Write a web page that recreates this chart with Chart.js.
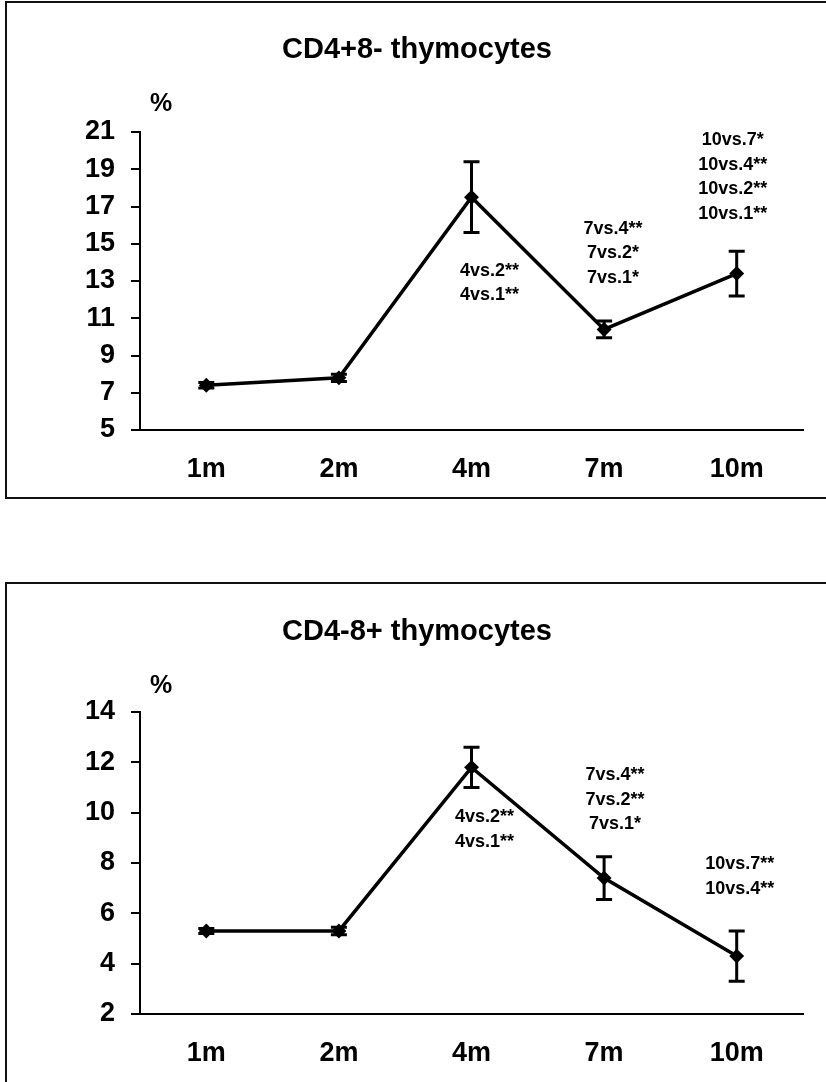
<!DOCTYPE html>
<html>
<head>
<meta charset="utf-8">
<script src="https://cdn.jsdelivr.net/npm/chart.js@4.4.1/dist/chart.umd.min.js"></script>
<style>
  html, body { margin: 0; padding: 0; background: #fff; }
  body { width: 826px; height: 1082px; position: relative; overflow: hidden; }
  .frame { position: absolute; left: 5px; width: 900px; border: 2px solid #111; border-right: none; }
  #frame1 { top: 1px; height: 494px; }
  #frame2 { top: 582px; height: 600px; border-bottom: none; }
  .wrap { position: absolute; left: 0; width: 826px; }
  #wrap1 { top: 0; height: 540px; }
  #wrap2 { top: 540px; height: 542px; }
</style>
</head>
<body>
<div class="frame" id="frame1"></div>
<div class="frame" id="frame2"></div>
<div class="wrap" id="wrap1"><canvas id="chart_cd4"></canvas></div>
<div class="wrap" id="wrap2"><canvas id="chart_cd8"></canvas></div>
<script>
const months = ['1m', '2m', '4m', '7m', '10m'];

// CD4+8- thymocytes
const cd4Values = [7.4, 7.8, 17.5, 10.4, 13.4];
const cd4Errors = [0.15, 0.2, 1.9, 0.45, 1.2];
const cd4Ticks = [5, 7, 9, 11, 13, 15, 17, 19, 21];
const cd4Notes = [
    [],
    [],
    ['4vs.2**', '4vs.1**'],
    ['7vs.4**', '7vs.2*', '7vs.1*'],
    ['10vs.7*', '10vs.4**', '10vs.2**', '10vs.1**'],
];

// CD4-8+ thymocytes
const cd8Values = [5.3, 5.3, 11.8, 7.4, 4.3];
const cd8Errors = [0.1, 0.15, 0.8, 0.85, 1.0];
const cd8Ticks = [2, 4, 6, 8, 10, 12, 14];
const cd8Notes = [
    [],
    [],
    ['4vs.2**', '4vs.1**'],
    ['7vs.4**', '7vs.2**', '7vs.1*'],
    ['10vs.7**', '10vs.4**'],
];

const FONT = '"Liberation Sans", Arial, sans-serif';
Chart.defaults.font.family = FONT;
Chart.defaults.font.weight = 'bold';
Chart.defaults.color = '#000';

// error bars, significance notes, title and the % unit
const extras = {
    id: 'extras',
    afterDatasetsDraw(chart, args, opts) {
        const { ctx, scales: { x, y } } = chart;
        ctx.save();
        ctx.strokeStyle = '#000';
        ctx.lineWidth = 3;
        opts.values.forEach((v, i) => {
            const px = x.getPixelForValue(i);
            const top = y.getPixelForValue(v + opts.errors[i]);
            const bot = y.getPixelForValue(v - opts.errors[i]);
            ctx.beginPath();
            ctx.moveTo(px, top);
            ctx.lineTo(px, bot);
            ctx.moveTo(px - 8, top);
            ctx.lineTo(px + 8, top);
            ctx.moveTo(px - 8, bot);
            ctx.lineTo(px + 8, bot);
            ctx.stroke();
        });

        ctx.fillStyle = '#000';
        ctx.textAlign = 'center';
        ctx.textBaseline = 'middle';
        ctx.font = 'bold 18px ' + FONT;
        opts.notes.forEach((lines, i) => {
            if (!lines.length)
                return;
            const a = opts.anchors[i];
            const px = x.getPixelForValue(i) + a.dx;
            const py = y.getPixelForValue(a.at);
            lines.forEach((t, k) => ctx.fillText(t, px, py + k * 24.5));
        });

        ctx.font = 'bold 29px ' + FONT;
        ctx.fillText(opts.title, 417, opts.titleY);
        ctx.font = 'bold 25px ' + FONT;
        ctx.fillText('%', x.left + 21, opts.titleY + 54);
        ctx.restore();
    },
};

function thymocyteChart(id, cfg) {
    return new Chart(document.getElementById(id), {
        type: 'line',
        data: {
            labels: months,
            datasets: [
                {
                    data: cfg.values,
                    borderColor: '#000',
                    backgroundColor: '#000',
                    borderWidth: 3.5,
                    pointStyle: 'rectRot',
                    pointRadius: 5,
                    tension: 0,
                    clip: false,
                },
            ],
        },
        options: {
            responsive: true,
            maintainAspectRatio: false,
            animation: false,
            layout: {
                padding: { top: cfg.areaTop, right: 23, left: 0, bottom: 0 },
            },
            scales: {
                x: {
                    offset: true,
                    grid: { display: false },
                    border: { display: true, color: '#000', width: 2 },
                    ticks: { font: { size: 27, weight: 'bold' }, padding: 15 },
                    afterFit: (s) => { s.height = cfg.axisHeight; },
                },
                y: {
                    min: cfg.ticks[0],
                    max: cfg.ticks[cfg.ticks.length - 1],
                    grid: {
                        display: true,
                        drawOnChartArea: false,
                        drawTicks: true,
                        tickLength: 9,
                        color: '#000',
                        lineWidth: 2,
                    },
                    border: { display: true, color: '#000', width: 2 },
                    ticks: { font: { size: 27, weight: 'bold' }, padding: 16 },
                    afterBuildTicks: (s) => { s.ticks = cfg.ticks.map((v) => ({ value: v })); },
                    afterFit: (s) => { s.width = 140; },
                },
            },
            plugins: {
                legend: { display: false },
                title: { display: false },
                tooltip: { enabled: false },
                extras: {
                    values: cfg.values,
                    errors: cfg.errors,
                    notes: cfg.notes,
                    anchors: cfg.anchors,
                    title: cfg.title,
                    titleY: cfg.titleY,
                },
            },
        },
        plugins: [extras],
    });
}

thymocyteChart('chart_cd4', {
    title: 'CD4+8- thymocytes',
    values: cd4Values,
    errors: cd4Errors,
    ticks: cd4Ticks,
    notes: cd4Notes,
    anchors: [null, null, { dx: 18, at: 13.55 }, { dx: 9, at: 15.8 }, { dx: -4, at: 20.55 }],
    titleY: 50,
    areaTop: 132,
    axisHeight: 110,
});

thymocyteChart('chart_cd8', {
    title: 'CD4-8+ thymocytes',
    values: cd8Values,
    errors: cd8Errors,
    ticks: cd8Ticks,
    notes: cd8Notes,
    anchors: [null, null, { dx: 13, at: 9.82 }, { dx: 11, at: 11.48 }, { dx: 3, at: 7.95 }],
    titleY: 92,
    areaTop: 172,
    axisHeight: 68,
});
</script>
</body>
</html>
